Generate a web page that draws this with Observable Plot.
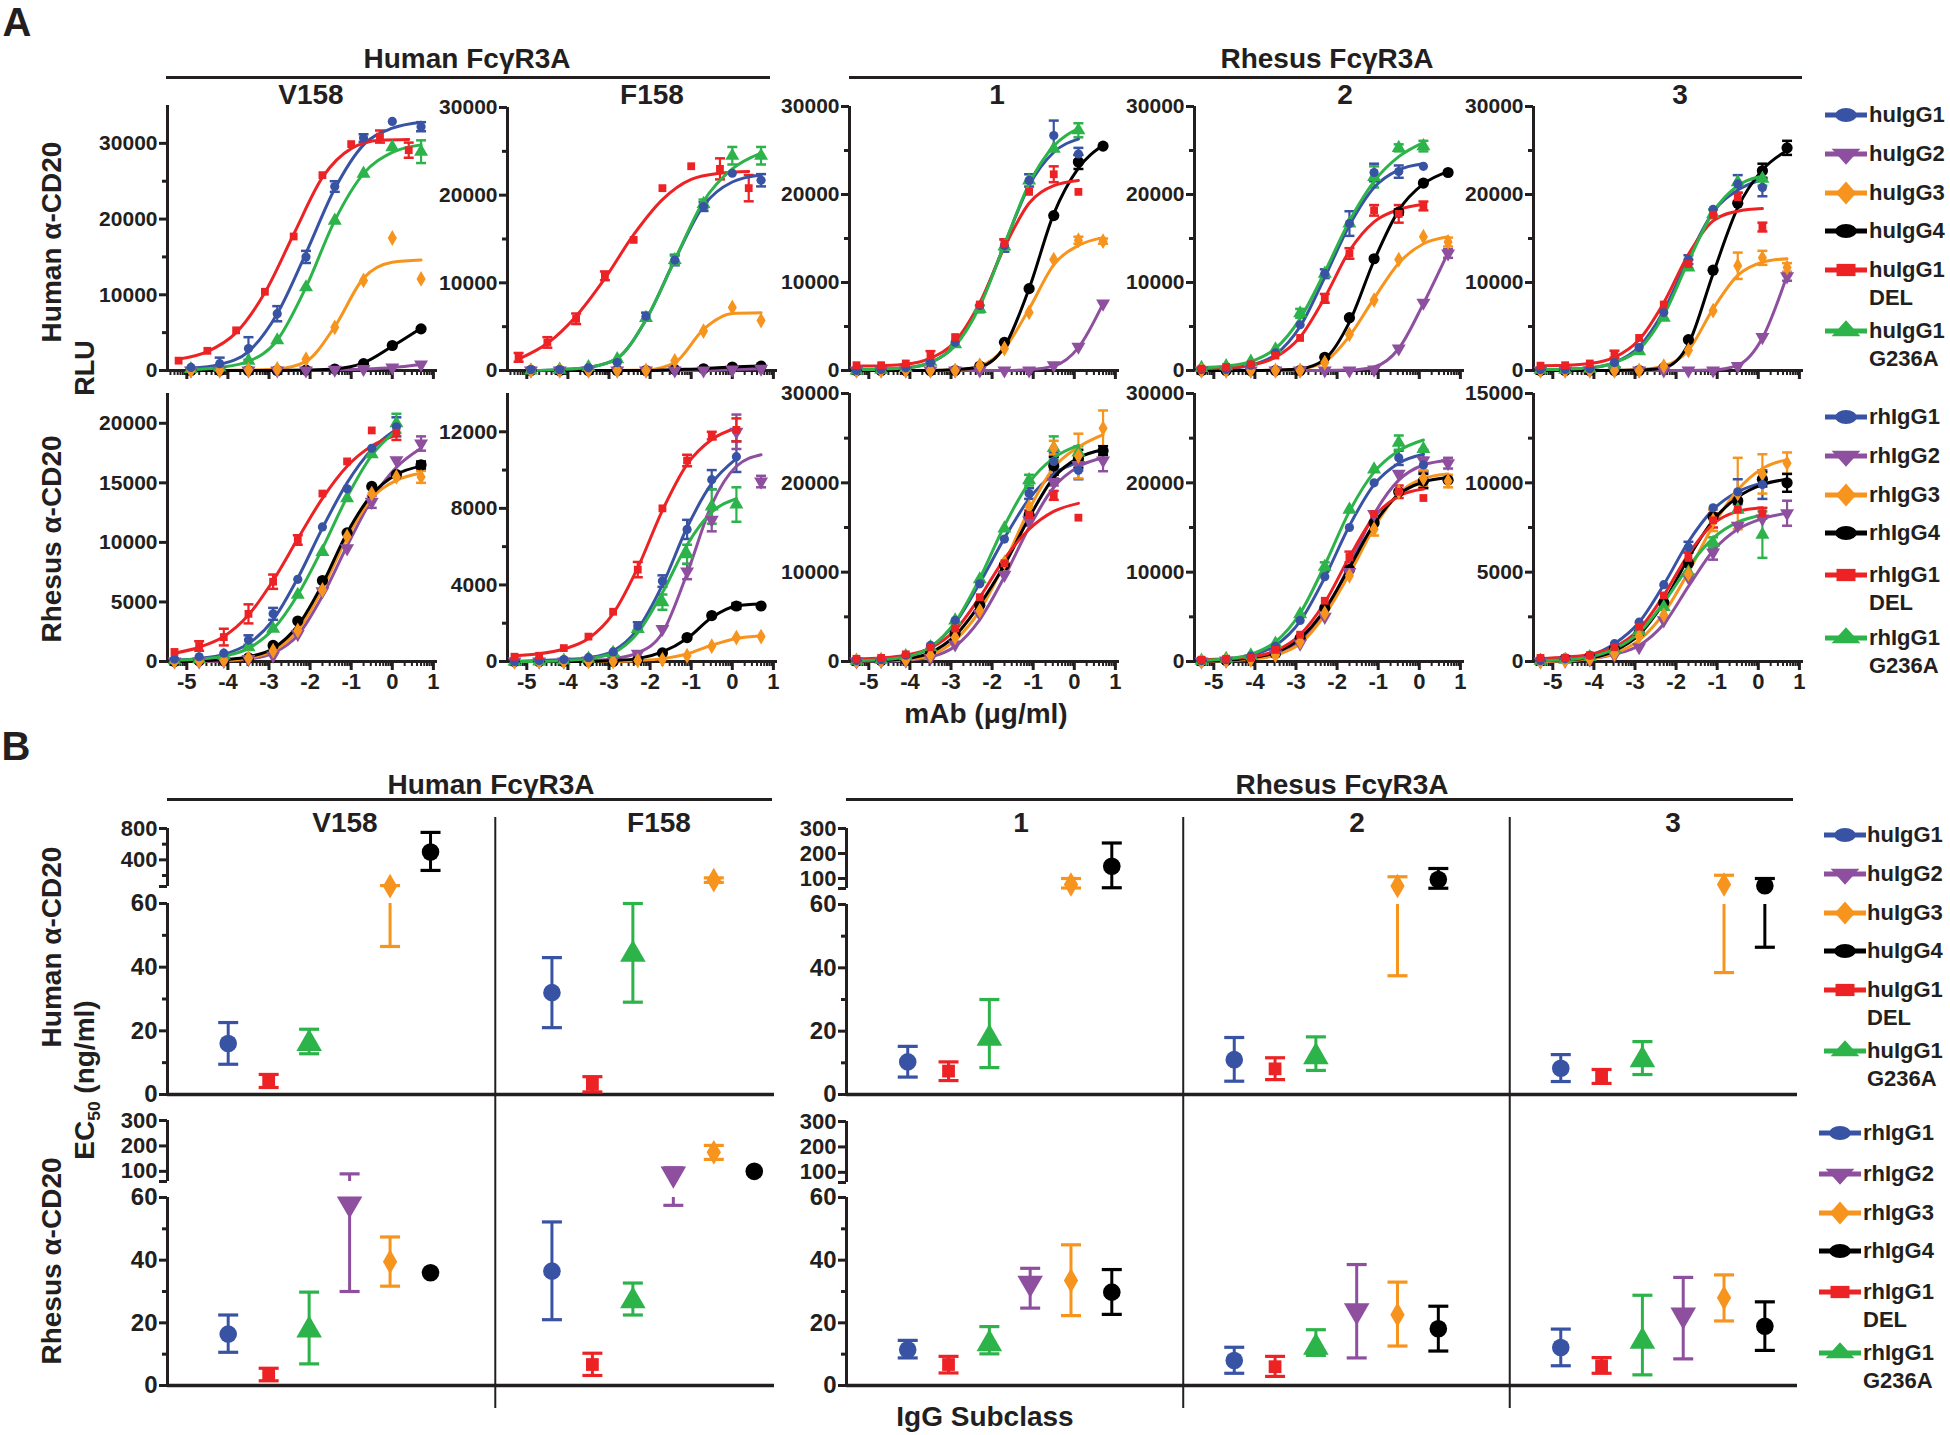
<!DOCTYPE html>
<html><head><meta charset="utf-8">
<script src="https://cdn.jsdelivr.net/npm/d3@7"></script>
<script src="https://cdn.jsdelivr.net/npm/@observablehq/plot@0.6"></script>
<style>
html,body{margin:0;padding:0;background:#fff;}
#fig{position:relative;width:1950px;height:1435px;overflow:hidden;background:#fff;color:#231f20;}
#fig svg{overflow:visible;}
.t{position:absolute;white-space:nowrap;line-height:1;}
.cond{font-family:"Liberation Sans",Arial,Helvetica,sans-serif;font-weight:bold;}
.sans{font-family:"Liberation Sans",Arial,Helvetica,sans-serif;font-weight:bold;}
</style></head><body><div id="fig"></div>
<script>
// ---------------- categories / labels ----------------
const groups = ["G1","G2","G3","G4","DEL","G236A"];
const groupColors = ["#3953a4","#8e4f9f","#f7941d","#000000","#ed2224","#2cb34a"];
const huLegend = ["huIgG1","huIgG2","huIgG3","huIgG4","huIgG1\nDEL","huIgG1\nG236A"];
const rhLegend = ["rhIgG1","rhIgG2","rhIgG3","rhIgG4","rhIgG1\nDEL","rhIgG1\nG236A"];
const receptorHeaders = ["Human FcγR3A","Rhesus FcγR3A"];
const columnTitles = ["V158","F158","1","2","3"];
const rowTitles = ["Human α-CD20","Rhesus α-CD20"];
const slotOrder = ["G1","DEL","G236A","G2","G3","G4"];

// ---------------- panel A: doses (log10 µg/ml) ----------------
const xTickValues = [-5,-4,-3,-2,-1,0,1];
const doseFold5 = [-4.9,-4.2,-3.5,-2.8,-2.1,-1.4,-0.7,0,0.7];
const doseFold5Del = [-5.2,-4.5,-3.8,-3.1,-2.4,-1.7,-1.0,-0.3,0.4];
const doseFold4 = [-5.3,-4.7,-4.1,-3.5,-2.9,-2.3,-1.7,-1.1,-0.5,0.1,0.7];

// y ticks (RLU)
const ticks30k = [0,10000,20000,30000], minor30k = [5000,15000,25000];
const ticks20k = [0,5000,10000,15000,20000], minor20k = [];
const ticks12k = [0,4000,8000,12000], minor12k = [2000,6000,10000];
const ticks15k = [0,5000,10000,15000], minor15k = [2500,7500,12500];

// ---------------- panel A data (thousand RLU), rows: G1,G2,G3,G4,DEL,G236A ----------------
// Human α-CD20 on human V158
const aHuV158Pts = [
 [0.4,0.9,2.9,7.5,15.0,24.3,30.7,32.9,32.2],
 [0,0,0,0,0,0.1,0.2,0.4,0.8],
 [0,0,0.1,0.2,1.5,5.7,11.9,17.5,12.1],
 [0,0,0,0,0.05,0.2,0.9,3.3,5.5],
 [1.3,2.6,5.3,10.4,17.7,25.8,29.9,30.9,29.1],
 [0.2,0.4,1.3,4.0,11.0,19.8,26.0,29.5,28.9]];
const aHuV158Fit = [
 [0.3,0.8,2.5,7.5,15.5,24.0,29.8,32.0,32.8],
 [0,0,0,0,0,0.1,0.2,0.4,0.8],
 [0,0,0.05,0.2,1.2,5.8,12.2,14.3,14.6],
 [0,0,0,0,0.05,0.2,1.0,3.2,5.6],
 [1.5,2.5,5.0,10.3,18.0,25.5,29.3,30.4,30.5],
 [0.1,0.4,1.2,4.0,11.0,19.8,26.0,28.8,29.8]];
const aHuV158Err = [
 [0,0.8,1.5,1.0,0.8,0.7,0.5,0,0.6],
 [0,0,0,0,0,0,0,0,0],
 [0,0,0,0,0,0,0,0,0],
 [0,0,0,0,0,0,0,0,0],
 [0,0,0,0,0,0,0,0.8,1.0],
 [0,0,0,0,0,0,0,0,1.5]];
// Human α-CD20 on human F158
const aHuF158Pts = [
 [0.1,0.1,0.3,0.9,6.2,12.6,18.7,22.5,21.7],
 [0,0,0,0,0,0,0,0.1,0.2],
 [0,0,0,0,0,1.1,4.5,7.2,5.7],
 [0,0,0,0,0,0.1,0.2,0.4,0.5],
 [1.5,3.2,5.9,10.8,14.9,20.8,23.3,23.0,20.8],
 [0,0.1,0.4,1.3,6.0,12.6,19.0,24.5,24.5]];
const aHuF158Fit = [
 [0,0.1,0.35,1.4,5.8,12.6,18.8,21.5,22.3],
 [0,0,0,0,0,0,0,0.1,0.2],
 [0,0,0,0,0.05,0.9,4.7,6.5,6.6],
 [0,0,0,0,0,0.1,0.2,0.4,0.5],
 [1.3,3.1,6.2,10.5,15.5,19.5,21.8,22.5,22.7],
 [0,0.1,0.35,1.4,5.8,12.6,19.3,23.0,24.8]];
const aHuF158Err = [
 [0,0,0,0,0.4,0.6,0.5,0,0.7],
 [0,0,0,0,0,0,0,0,0],
 [0,0,0,0,0,0,0,0,0],
 [0,0,0,0,0,0,0,0,0],
 [0.5,0.6,0.6,0.5,0,0,0,1.2,1.5],
 [0,0,0,0,0,0.5,0.5,1.0,1.0]];
// Human α-CD20 on rhesus 1
const aHuR1Pts = [
 [0,0.1,0.3,0.9,3.2,7.4,14.2,21.6,26.7,24.6],
 [0,0,0,0,0,0,0,0,0.6,2.7,7.6],
 [0,0,0,0,0,0.6,2.5,6.6,12.6,14.8,14.7],
 [0,0,0,0,0,0.5,3.2,9.3,17.6,23.7,25.5],
 [0.6,0.6,0.8,1.7,3.8,7.5,14.4,20.3,22.3,20.3],
 [0,0.1,0.3,1.0,3.0,7.0,14.1,21.6,25.2,27.3]];
const aHuR1Fit = [
 [0.1,0.15,0.3,0.9,2.9,7.5,14.3,21.0,24.8,26.3],
 [0,0,0,0,0,0,0,0.1,0.5,2.6,7.6],
 [0,0,0,0,0.05,0.5,2.5,7.0,12.0,14.2,15.1],
 [0,0,0,0,0.1,0.4,2.7,9.3,17.8,23.0,25.6],
 [0.5,0.55,0.7,1.4,3.3,7.7,14.0,19.0,21.0,21.6],
 [0.1,0.15,0.3,0.9,2.8,7.3,14.3,21.2,25.5,27.5]];
const aHuR1Err = [
 [0,0,0,0,0,0,0.7,0.7,1.7,0.7],
 [0,0,0,0,0,0,0,0,0,0,0],
 [0,0,0,0,0,0,0,0,0,0.4,0.3],
 [0,0,0,0,0,0,0,0,0,0.8,0],
 [0,0,0,0.5,0,0,0.5,0,0.9,0],
 [0,0,0,0,0,0.4,0,0,0,0.8]];
// Human α-CD20 on rhesus 2
const aHuR2Pts = [
 [0.1,0.1,0.6,2.0,5.2,11.0,16.7,22.5,22.6,23.2],
 [0,0,0,0,0,0,0,0.1,2.5,7.7,13.3],
 [0,0,0,0,0,0.9,4.1,8.0,12.6,15.2,14.6],
 [0,0,0,0,0,1.5,6.0,12.7,18.0,21.3,22.5],
 [0.2,0.4,0.7,1.7,3.7,8.2,13.3,18.2,17.8,18.7],
 [0.3,0.5,1.0,2.4,6.5,11.0,16.7,22.0,25.3,25.5]];
const aHuR2Fit = [
 [0.1,0.2,0.6,1.8,5.0,10.6,16.5,20.8,22.8,23.5],
 [0,0,0,0,0,0,0.05,0.4,2.5,7.6,13.4],
 [0,0,0,0.05,0.2,1.0,3.9,8.2,12.2,14.4,15.2],
 [0,0,0,0.05,0.2,1.3,5.5,12.5,18.2,21.2,22.6],
 [0.2,0.3,0.6,1.5,3.8,8.3,13.6,16.9,18.3,18.9],
 [0.3,0.5,1.0,2.5,5.9,11.2,17.0,21.5,24.3,25.9]];
const aHuR2Err = [
 [0,0,0,0,0,0.5,1.4,1.0,0.7,0],
 [0,0,0,0,0,0,0,0,0,0,0.5],
 [0,0,0,0,0,0,0,0,0,0,0.5],
 [0,0,0,0,0,0,0,0,0.3,0,0],
 [0,0,0,0,0,0.5,0.6,0.6,1.0,0.5],
 [0,0,0,0,0.5,0,0,1.2,0.4,0.6]];
// Human α-CD20 on rhesus 3
const aHuR3Pts = [
 [0.1,0.1,0.2,0.9,2.6,6.6,12.6,18.3,21.2,20.8],
 [0,0,0,0,0,0,0,0,0.5,3.8,10.7],
 [0,0,0,0,0,0.5,2.3,6.8,11.9,12.8,11.7],
 [0,0,0,0,0,0.3,3.5,11.4,19.0,22.7,25.3],
 [0.55,0.6,0.8,1.85,3.7,7.5,12.1,17.7,19.7,16.3],
 [0.1,0.1,0.2,0.7,2.2,6.0,11.7,17.8,21.4,21.8]];
const aHuR3Fit = [
 [0.1,0.15,0.3,0.9,2.7,6.8,12.8,18.0,20.5,21.7],
 [0,0,0,0,0,0,0,0.05,0.6,3.7,10.8],
 [0,0,0,0,0.1,0.5,2.3,7.0,10.8,12.3,12.7],
 [0,0,0,0,0.05,0.3,3.0,11.0,18.5,22.8,25.0],
 [0.55,0.6,0.8,1.5,3.5,7.7,13.2,17.0,18.1,18.4],
 [0.1,0.15,0.3,0.9,2.4,6.3,12.4,18.0,21.0,22.1]];
const aHuR3Err = [
 [0,0,0,0,0,0,0.5,0,1.0,1.0],
 [0,0,0,0,0,0,0,0,0,0,0.5],
 [0,0,0,0,0,0,0,0,1.5,0.8,0.5],
 [0,0,0,0,0,0,0,0,0,0.8,0.8],
 [0,0,0,0.4,0,0,0.5,0,0.5,0.5],
 [0,0,0,0,0,0,0,0.5,0,0.8]];
// Rhesus α-CD20 on human V158
const aRhV158Pts = [
 [0.2,0.4,0.7,1.8,4.0,6.9,11.3,14.5,17.9,19.7],
 [0,0,0.05,0.2,0.5,2.3,5.9,9.5,13.4,16.9,18.3],
 [0,0.05,0.1,0.3,0.9,2.6,6.0,10.5,14.1,15.5,15.5],
 [0,0.05,0.1,0.3,1.35,3.4,6.8,10.8,14.7,15.7,16.5],
 [0.8,1.3,2.05,4.0,6.7,10.2,14.1,16.8,19.4,19.2],
 [0.1,0.2,0.5,1.2,2.75,5.6,9.2,13.7,17.4,20.0]];
const aRhV158Fit = [
 [0.1,0.25,0.6,1.5,3.5,7.0,11.2,15.0,17.8,19.5],
 [0,0,0.05,0.2,0.7,2.2,5.5,9.7,13.6,16.3,17.9],
 [0,0.05,0.1,0.3,0.9,2.6,6.1,10.4,13.7,15.2,15.8],
 [0,0.05,0.15,0.4,1.1,3.0,6.5,10.8,14.0,15.7,16.4],
 [0.7,1.2,2.1,3.9,6.8,10.3,13.7,16.4,18.1,19.0],
 [0.1,0.2,0.45,1.1,2.7,5.6,9.5,13.8,17.3,19.4]];
const aRhV158Err = [
 [0,0,0,0.4,0.5,0,0,0,0,0.8],
 [0,0,0,0,0,0,0,0,0.5,0,0.6],
 [0,0,0,0,0,0,0,0,0,0,0.5],
 [0,0,0,0,0,0,0,0,0,0,0.3],
 [0,0.4,0.7,0.8,0.6,0.4,0,0,0,0.6],
 [0,0,0,0,0,0,0,0,0,0.8]];
// Rhesus α-CD20 on human F158
const aRhF158Pts = [
 [0,0.05,0.1,0.2,0.5,1.85,4.2,6.9,9.5,10.7],
 [0,0,0,0.05,0.1,0.4,1.7,4.7,7.4,12.0,9.4],
 [0,0,0,0,0,0.05,0.1,0.3,0.8,1.25,1.3],
 [0,0,0,0,0,0.1,0.45,1.25,2.4,2.9,2.9],
 [0.25,0.3,0.7,1.3,2.6,4.8,8.0,10.5,11.8,12.1],
 [0,0,0.05,0.15,0.45,1.7,3.1,5.6,8.1,8.2]];
const aRhF158Fit = [
 [0,0.05,0.1,0.2,0.55,1.7,4.0,7.0,9.3,10.6],
 [0,0,0,0.05,0.15,0.45,1.5,4.6,8.2,10.2,10.8],
 [0,0,0,0,0,0.05,0.15,0.4,0.85,1.2,1.35],
 [0,0,0,0,0.05,0.15,0.5,1.2,2.3,2.9,3.0],
 [0.3,0.4,0.65,1.2,2.5,4.9,7.9,10.3,11.6,12.2],
 [0,0,0.05,0.15,0.45,1.5,3.6,6.1,7.8,8.5]];
const aRhF158Err = [
 [0,0,0,0,0,0.2,0.3,0.5,0.5,0.8],
 [0,0,0,0,0,0,0,0.4,0.6,0.9,0.3],
 [0,0,0,0,0,0,0,0,0,0,0],
 [0,0,0,0,0,0,0,0,0,0.15,0],
 [0,0,0,0,0,0.4,0,0.3,0.2,0.6],
 [0,0,0,0,0,0,0.4,0.5,0.9,0.9]];
// Rhesus α-CD20 on rhesus 1
const aRhR1Pts = [
 [0.1,0.2,0.7,1.8,4.6,8.7,13.7,18.8,22.4,21.4],
 [0,0.05,0.1,0.4,1.9,5.3,9.7,15.8,20.1,22.0,22.5],
 [0.05,0.1,0.2,0.7,2.7,5.7,11.1,17.3,23.9,23.0,26.1],
 [0.05,0.1,0.2,1.1,3.1,6.3,10.8,16.4,21.9,22.7,23.6],
 [0.3,0.4,0.8,1.6,3.7,7.2,11.0,16.4,18.6,16.1],
 [0.1,0.2,0.6,1.6,4.6,9.2,14.9,20.3,23.9,23.4]];
const aRhR1Fit = [
 [0.1,0.2,0.5,1.6,4.3,8.8,13.8,18.2,21.0,22.3],
 [0,0.05,0.15,0.5,1.7,4.7,9.5,15.0,19.5,21.8,22.8],
 [0.05,0.1,0.2,0.7,2.4,5.7,11.0,17.0,21.7,24.0,25.4],
 [0.05,0.1,0.3,1.0,2.9,6.4,10.8,16.1,20.6,22.8,23.7],
 [0.3,0.4,0.7,1.5,3.5,7.2,11.5,14.8,16.8,17.7],
 [0.1,0.2,0.5,1.6,4.4,9.3,15.2,20.0,22.8,24.2]];
const aRhR1Err = [
 [0,0,0,0,0,0,0,0.6,1.0,1.0],
 [0,0,0,0,0,0,0,0.6,0.4,0.6,1.2],
 [0,0,0,0,0,0,0,0,0.8,2.5,2.0],
 [0,0,0,0,0,0,0,0,1.0,1.0,0.5],
 [0,0,0,0,0,0,0,0.5,0.5,0],
 [0,0,0,0,0,0,0,0.6,1.3,0.7]];
// Rhesus α-CD20 on rhesus 2
const aRhR2Pts = [
 [0.1,0.2,0.6,1.7,4.6,9.5,15.0,20.0,22.8,22.0],
 [0,0.1,0.3,0.8,2.0,5.0,10.0,16.5,21.0,22.5,22.2],
 [0,0.1,0.2,0.7,2.2,5.4,9.6,14.8,19.0,20.5,20.2],
 [0.05,0.1,0.3,0.9,2.6,6.0,10.3,15.5,19.0,20.2,20.3],
 [0.2,0.3,0.4,1.3,3.0,6.8,11.7,16.5,19.0,18.3],
 [0.1,0.3,0.7,2.0,5.3,10.6,17.0,21.5,24.5,23.8]];
const aRhR2Fit = [
 [0.1,0.25,0.7,1.8,4.5,9.4,15.2,19.8,22.2,23.2],
 [0,0.1,0.3,0.9,2.2,5.5,10.8,16.5,20.3,22.0,22.5],
 [0,0.1,0.25,0.7,2.0,5.2,9.8,15.0,18.8,20.5,21.0],
 [0.05,0.15,0.4,1.0,2.6,5.8,10.5,15.4,18.7,20.1,20.6],
 [0.2,0.3,0.5,1.2,3.0,6.6,11.7,16.2,18.5,19.3],
 [0.1,0.3,0.8,2.2,5.4,10.8,16.8,21.2,23.6,24.8]];
const aRhR2Err = [
 [0,0,0,0,0,0,0,0,0.8,0.8],
 [0,0,0,0,0,0,0,0,0,1.2,0.6],
 [0,0,0,0,0,0,0,0.7,0,0.9,0.7],
 [0,0,0,0,0,0,0,0,0,0.8,0],
 [0,0,0,0,0,0,0.6,0,0.7,0],
 [0,0,0,0,0,0.5,0,0,0.8,0]];
// Rhesus α-CD20 on rhesus 3
const aRhR3Pts = [
 [0.05,0.15,0.35,1.0,2.2,4.3,6.4,8.6,9.5,9.9],
 [0,0.05,0.1,0.35,0.8,2.3,4.7,6.1,7.6,8.0,8.3],
 [0,0.05,0.15,0.45,1.4,2.6,4.9,7.9,9.4,10.5,11.1],
 [0.05,0.15,0.25,0.7,1.6,3.3,5.5,8.1,9.0,10.2,10.0],
 [0.2,0.2,0.35,0.8,1.95,3.7,5.8,7.9,8.5,8.3],
 [0.05,0.1,0.25,0.7,1.7,3.05,5.0,6.65,8.5,7.1]];
const aRhR3Fit = [
 [0.05,0.15,0.35,1.0,2.2,4.3,6.7,8.5,9.5,10.0],
 [0,0.05,0.15,0.4,0.9,2.1,4.2,6.2,7.4,8.0,8.3],
 [0,0.05,0.15,0.45,1.2,2.7,5.0,7.6,9.6,10.8,11.3],
 [0.05,0.1,0.2,0.6,1.5,3.3,5.8,7.9,9.2,9.9,10.2],
 [0.15,0.25,0.4,0.8,1.8,3.7,6.0,7.7,8.4,8.6],
 [0.05,0.1,0.25,0.7,1.6,3.3,5.3,6.9,7.8,8.2]];
const aRhR3Err = [
 [0,0,0,0,0,0,0.3,0,0.7,0.8],
 [0,0,0,0,0,0,0,0.4,0,0,0.7],
 [0,0,0,0,0,0,0,0.6,2.0,1.1,0.6],
 [0,0,0,0,0,0,0,0,0,0.4,0.5],
 [0,0,0,0,0,0,0.3,0.4,0,0.3],
 [0,0,0,0,0,0,0,0.3,0,1.3]];

// ---------------- panel B data: EC50 (ng/ml) [value, lower, upper], rows: G1,G2,G3,G4,DEL,G236A ----------------
const bHuV158 = [[16,9.5,22.6], null, [64,46.5,72], [500,265,750], [4.2,2.2,6.3], [16,12.8,20.5]];
const bHuF158 = [[32,21,43], null, [140,112,170], null, [3.2,0.8,5.6], [44,29,60]];
const bHuR1 = [[10.3,5.5,15.2], null, [76,62,100], [149,63,242], [7.4,4.4,10.3], [17.7,8.5,30]];
const bHuR2 = [[11,4.2,18], null, [70,37.5,107], [96,61,140], [8.1,4.7,11.6], [11.9,7.6,18.2]];
const bHuR3 = [[8.3,4.1,12.6], null, [76,38.5,113], [71,46.5,100], [5.7,3.5,7.9], [10.9,6.3,16.7]];
const bRhV158 = [[16.4,10.6,22.5], [58,30,90], [39.5,31.7,47.4], [36,36,36], [3.5,1.5,5.5], [17.7,6.9,29.8]];
const bRhF158 = [[36.5,21,52.2], [90,57.5,114], [175,147,202], [100,100,100], [6.7,3.2,10.3], [27,22.5,32.7]];
const bRhR1 = [[11.4,8.8,14.4], [32.7,24.7,37.4], [33.5,22.3,44.9], [29.8,22.7,37], [6.7,4,9.3], [13.3,10.1,18.8]];
const bRhR2 = [[8,3.9,12.2], [23.9,8.8,38.6], [22.6,12.6,33], [18.1,11,25.3], [6,2.9,9.3], [12.2,9.6,17.8]];
const bRhR3 = [[12.1,6.3,18], [22.5,8.5,34.5], [28,20.6,35.3], [18.9,11.2,26.7], [6.3,3.9,8.9], [14.1,3.4,28.8]];
const bTicksHuUpper = [400,800], bMinorHuUpper = [200,600], bBreakHu = [60];
const bTicksRhUpper = [100,200,300], bMinorRhUpper = [], bBreakRh = [60];
const bTicksLower = [0,20,40,60], bMinorLower = [10,30,50];

// ======================= drawing =======================
const INK = "#231f20";
const FONT = '"Liberation Sans",Arial,Helvetica,sans-serif';
const fig = document.getElementById("fig");
const sqrt3 = Math.sqrt(3);
const triangleDown = {draw(ctx, size){ const y = -Math.sqrt(size/(sqrt3*3)); ctx.moveTo(0,-y*2); ctx.lineTo(-sqrt3*y,y); ctx.lineTo(sqrt3*y,y); ctx.closePath(); }};
const capSymbol = {draw(ctx, size){ const w = Math.sqrt(size/Math.PI); ctx.moveTo(-w,0); ctx.lineTo(w,0); }};
const symbolRange = [d3.symbolCircle, triangleDown, d3.symbolDiamond, d3.symbolCircle, d3.symbolSquare, d3.symbolTriangle];
const rA = {G1:4.6, G2:5.2, G3:4.8, G4:5.6, DEL:4.4, G236A:5.2};
const rB = {G1:8.8, G2:9.5, G3:7.5, G4:8.8, DEL:7.2, G236A:9.5};

function place(node, left, top){ node.style.position="absolute"; node.style.left=left+"px"; node.style.top=top+"px"; fig.appendChild(node); return node; }
function text(str, cx, cy, size, cls, rot){
  const d = document.createElement("div");
  d.className = "t " + cls;
  d.style.fontSize = size + "px";
  d.innerHTML = str;
  d.style.transform = `translate(-50%,-50%) rotate(${rot||0}deg)`;
  return place(d, cx, cy);
}
function hline(x1, x2, y, w){
  const d = document.createElement("div");
  d.style.width = (x2-x1)+"px"; d.style.height = w+"px"; d.style.background = INK;
  return place(d, x1, y - w/2);
}

// ---------- panel A ----------
const xDomainA = [-5.47, 1.1];
const xMinorA = [];
for (let k = -6; k <= 0; k++) for (let m = 2; m <= 9; m++) { const v = k + Math.log10(m); if (v > xDomainA[0] && v < xDomainA[1]) xMinorA.push(v); }
const aFrameLeft = [167, 507, 849, 1194, 1533];
const aFrameWidth = 270;

function panelA(pts, fit, err, cfg){
  const ml = 80, mr = 12, mt = 12, mb = cfg.labels ? 42 : 18;
  const fh = cfg.zeroY - cfg.topY;
  const dots = [], curve = [], bars = [], caps = [];
  groups.forEach((g, gi) => {
    const dose = cfg.dose(g);
    pts[gi].forEach((v,i) => dots.push({g, x: dose[i], y: v*1000}));
    fit[gi].forEach((v,i) => curve.push({g, x: dose[i], y: v*1000}));
    err[gi].forEach((e,i) => {
      if (e > 0) {
        const x = dose[i], lo = Math.max(0,(pts[gi][i]-e)*1000), hi = (pts[gi][i]+e)*1000;
        bars.push({g, x, lo, hi}); caps.push({g, x, y: lo}, {g, x, y: hi});
      }
    });
  });
  const svg = Plot.plot({
    width: ml + aFrameWidth + mr, height: mt + fh + mb,
    marginLeft: ml, marginRight: mr, marginTop: mt, marginBottom: mb,
    x: {domain: xDomainA}, y: {domain: [0, cfg.ymax]},
    color: {domain: groups, range: groupColors},
    symbol: {domain: groups, range: symbolRange},
    r: {type: "identity"},
    style: {background: "transparent", color: INK, fontFamily: FONT, fontWeight: "bold", overflow: "visible"},
    marks: [
      Plot.ruleX([xDomainA[0]], {y1: 0, y2: cfg.ymax, strokeWidth: 3, stroke: INK}),
      Plot.ruleY([0], {x1: xDomainA[0], x2: xDomainA[1], strokeWidth: 3, stroke: INK}),
      Plot.axisY({ticks: cfg.ticks, tickSize: 8, tickPadding: 2, strokeWidth: 3, label: null, fontSize: 21, fontFamily: FONT, fontWeight: "bold", tickFormat: d => String(d)}),
      Plot.axisY({ticks: cfg.minor, tickSize: 5, strokeWidth: 3, label: null, tickFormat: () => ""}),
      Plot.axisX({ticks: xTickValues, tickSize: 9, tickPadding: 3, strokeWidth: 3, label: null, fontSize: 22, fontFamily: FONT, fontWeight: "bold", tickFormat: cfg.labels ? (d => String(d)) : () => ""}),
      Plot.axisX({ticks: xMinorA, tickSize: 5, strokeWidth: 2, label: null, tickFormat: () => ""}),
      Plot.ruleX(bars, {x: "x", y1: "lo", y2: "hi", stroke: "g", strokeWidth: 2.2}),
      Plot.dot(caps, {x: "x", y: "y", stroke: "g", symbol: capSymbol, r: 5, strokeWidth: 2.5}),
      Plot.line(curve, {x: "x", y: "y", z: "g", stroke: "g", strokeWidth: 3, curve: "monotone-x"}),
      Plot.dot(dots, {x: "x", y: "y", fill: "g", symbol: "g", r: d => rA[d.g]})
    ]
  });
  place(svg, cfg.left - ml, cfg.topY - mt);
}

const humanTopDose = g => g === "DEL" ? doseFold5Del : doseFold5;
const otherDose = g => doseFold4;
const aTop = [[aHuV158Pts,aHuV158Fit,aHuV158Err],[aHuF158Pts,aHuF158Fit,aHuF158Err],[aHuR1Pts,aHuR1Fit,aHuR1Err],[aHuR2Pts,aHuR2Fit,aHuR2Err],[aHuR3Pts,aHuR3Fit,aHuR3Err]];
const aBot = [[aRhV158Pts,aRhV158Fit,aRhV158Err],[aRhF158Pts,aRhF158Fit,aRhF158Err],[aRhR1Pts,aRhR1Fit,aRhR1Err],[aRhR2Pts,aRhR2Fit,aRhR2Err],[aRhR3Pts,aRhR3Fit,aRhR3Err]];
const aTopMax = [35000,30000,30000,30000,30000];
const aTopPix = [105,107,106,106,106];
const aBotMax = [22500,14000,30000,30000,15000];
const aBotTicks = [[ticks20k,minor20k],[ticks12k,minor12k],[ticks30k,minor30k],[ticks30k,minor30k],[ticks15k,minor15k]];
aTop.forEach((p, i) => panelA(p[0], p[1], p[2], {left: aFrameLeft[i], topY: aTopPix[i], zeroY: 370, ymax: aTopMax[i], ticks: ticks30k, minor: minor30k, labels: false, dose: i < 2 ? humanTopDose : otherDose}));
aBot.forEach((p, i) => panelA(p[0], p[1], p[2], {left: aFrameLeft[i], topY: 393, zeroY: 661, ymax: aBotMax[i], ticks: aBotTicks[i][0], minor: aBotTicks[i][1], labels: true, dose: otherDose}));

// ---------- panel B ----------
const bHuFrame = {left: 167, width: 607, domain: [-1.5, 13.5], bases: [0, 8], seps: [6.6]};
const bRhFrame = {left: 846, width: 951, domain: [-1.5, 21.8], bases: [0, 8, 16], seps: [6.75, 14.75]};

function entriesB(panels, bases){
  const out = [];
  panels.forEach((arr, pi) => groups.forEach((g, gi) => {
    const t = arr[gi]; if (!t) return;
    out.push({g, slot: bases[pi] + slotOrder.indexOf(g), v: t[0], lo: t[1], hi: t[2]});
  }));
  return out;
}

function segB(entries, frame, cfg){
  const ml = 70, mr = 8, mt = 14, mb = 14;
  const [dmin, dmax] = cfg.domain;
  const upper = dmin > 0;
  const inSeg = y => (upper ? y > dmin : y >= dmin) && y <= dmax;
  const fh = cfg.bottomY - cfg.topY;
  const dots = entries.filter(d => inSeg(d.v));
  const bars = [], caps = [];
  for (const d of entries) {
    if (d.lo === d.hi) continue;
    const y1 = Math.max(d.lo, dmin), y2 = Math.min(d.hi, dmax);
    if (y1 < y2) bars.push({g: d.g, slot: d.slot, y1, y2});
    for (const y of [d.lo, d.hi]) if (inSeg(y)) caps.push({g: d.g, slot: d.slot, y});
  }
  const marks = [
    Plot.ruleX([frame.domain[0]], {y1: dmin, y2: dmax, strokeWidth: 3, stroke: INK}),
    Plot.axisY({ticks: cfg.ticks, tickSize: 8, tickPadding: 2, strokeWidth: 3, label: null, fontSize: cfg.fontSize, fontFamily: FONT, fontWeight: "bold", tickFormat: d => String(d)})
  ];
  if (cfg.minor && cfg.minor.length) marks.push(Plot.axisY({ticks: cfg.minor, tickSize: 5, strokeWidth: 3, label: null, tickFormat: () => ""}));
  if (cfg.breaks && cfg.breaks.length) marks.push(Plot.axisY({ticks: cfg.breaks, tickSize: 8, strokeWidth: 3, label: null, tickFormat: () => ""}));
  if (cfg.base) marks.push(Plot.ruleY([0], {x1: frame.domain[0], x2: frame.domain[1], strokeWidth: 3.5, stroke: INK}));
  marks.push(
    Plot.ruleX(bars, {x: "slot", y1: "y1", y2: "y2", stroke: "g", strokeWidth: 3}),
    Plot.dot(caps, {x: "slot", y: "y", stroke: "g", symbol: capSymbol, r: 10, strokeWidth: 3.2}),
    Plot.dot(dots, {x: "slot", y: "v", fill: "g", symbol: "g", r: d => rB[d.g]})
  );
  const svg = Plot.plot({
    width: ml + frame.width + mr, height: mt + fh + mb,
    marginLeft: ml, marginRight: mr, marginTop: mt, marginBottom: mb,
    x: {domain: frame.domain, axis: null}, y: {domain: cfg.domain},
    color: {domain: groups, range: groupColors},
    symbol: {domain: groups, range: symbolRange},
    r: {type: "identity"},
    style: {background: "transparent", color: INK, fontFamily: FONT, fontWeight: "bold", overflow: "visible"},
    marks
  });
  place(svg, frame.left - ml, cfg.topY - mt);
}

function separators(frame, top, bottom){
  const svg = Plot.plot({
    width: frame.width, height: bottom - top, margin: 0,
    x: {domain: frame.domain, axis: null}, y: {domain: [0,1], axis: null},
    style: {background: "transparent", overflow: "visible"},
    marks: [Plot.ruleX(frame.seps, {stroke: INK, strokeWidth: 2})]
  });
  place(svg, frame.left, top);
}
separators(bHuFrame, 817, 1408);
separators(bRhFrame, 817, 1408);

const eHuTop = entriesB([bHuV158, bHuF158], bHuFrame.bases);
const eRhTop = entriesB([bHuR1, bHuR2, bHuR3], bRhFrame.bases);
const eHuBot = entriesB([bRhV158, bRhF158], bHuFrame.bases);
const eRhBot = entriesB([bRhR1, bRhR2, bRhR3], bRhFrame.bases);

const upperHu = {domain: [60, 800], ticks: bTicksHuUpper, minor: bMinorHuUpper, breaks: bBreakHu, fontSize: 22};
const upperRh = {domain: [60, 300], ticks: bTicksRhUpper, minor: bMinorRhUpper, breaks: bBreakRh, fontSize: 22};
const lowerCfg = {domain: [0, 60], ticks: bTicksLower, minor: bMinorLower, fontSize: 24, base: true};

segB(eHuTop, bHuFrame, Object.assign({}, upperHu, {topY: 828, bottomY: 886}));
segB(eRhTop, bRhFrame, Object.assign({}, upperRh, {topY: 828, bottomY: 888}));
segB(eHuTop, bHuFrame, Object.assign({}, lowerCfg, {topY: 903, bottomY: 1094}));
segB(eRhTop, bRhFrame, Object.assign({}, lowerCfg, {topY: 904, bottomY: 1094}));
segB(eHuBot, bHuFrame, Object.assign({}, upperRh, {topY: 1120, bottomY: 1181}));
segB(eRhBot, bRhFrame, Object.assign({}, upperRh, {topY: 1121, bottomY: 1182}));
segB(eHuBot, bHuFrame, Object.assign({}, lowerCfg, {topY: 1197, bottomY: 1385}));
segB(eRhBot, bRhFrame, Object.assign({}, lowerCfg, {topY: 1197, bottomY: 1385}));

// ---------- legends ----------
function legend(labels, symX, textX, ys){
  labels.forEach((lab, i) => {
    const ns = "http://www.w3.org/2000/svg";
    const s = document.createElementNS(ns, "svg");
    s.setAttribute("width", 46); s.setAttribute("height", 26);
    const ln = document.createElementNS(ns, "line");
    ln.setAttribute("x1", 2); ln.setAttribute("x2", 44); ln.setAttribute("y1", 13); ln.setAttribute("y2", 13);
    ln.setAttribute("stroke", groupColors[i]); ln.setAttribute("stroke-width", 5);
    s.appendChild(ln);
    const p = document.createElementNS(ns, "path");
    p.setAttribute("d", d3.symbol(symbolRange[i], 150)());
    p.setAttribute("fill", groupColors[i]);
    p.setAttribute("transform", "translate(23,13) scale(1.55,1)");
    s.appendChild(p);
    place(s, symX - 23, ys[i] - 13);
    const d = document.createElement("div");
    d.className = "t sans";
    d.style.fontSize = "22px"; d.style.lineHeight = "28px";
    d.innerHTML = lab.split("\n").join("<br>");
    place(d, textX, ys[i] - 14);
  });
}
legend(huLegend, 1846, 1869, [115,154,193,231,270,331]);
legend(rhLegend, 1846, 1869, [417,456,495,533,575,638]);
legend(huLegend, 1845, 1867, [835,874,913,951,990,1051]);
legend(rhLegend, 1840, 1863, [1133,1174,1213,1251,1292,1353]);

// ---------- headers & titles ----------
text("A", 17, 22, 40, "sans");
text("B", 16, 746, 40, "sans");
text(receptorHeaders[0], 467, 59, 28, "cond"); hline(166, 770, 77, 3);
text(receptorHeaders[1], 1327, 59, 28, "cond"); hline(849, 1802, 77, 3);
[311, 652, 997, 1345, 1680].forEach((x, i) => text(columnTitles[i], x, 95, 28, "cond"));
text(rowTitles[0], 52, 242, 28, "sans", -90);
text("RLU", 85, 368, 27, "sans", -90);
text(rowTitles[1], 52, 539, 28, "sans", -90);
text("mAb (μg/ml)", 986, 714, 28, "cond");

text(receptorHeaders[0], 491, 785, 28, "cond"); hline(166.5, 772, 799, 3);
text(receptorHeaders[1], 1342, 785, 28, "cond"); hline(846, 1793, 799, 3);
[345, 659, 1021, 1357, 1673].forEach((x, i) => text(columnTitles[i], x, 823, 28, "cond"));
text(rowTitles[0], 52, 947, 28, "sans", -90);
text("EC<sub style='font-size:0.62em'>50</sub> (ng/ml)", 87, 1080, 28, "sans", -90);
text(rowTitles[1], 52, 1261, 28, "sans", -90);
text("IgG Subclass", 985, 1417, 28, "cond");
</script></body></html>
